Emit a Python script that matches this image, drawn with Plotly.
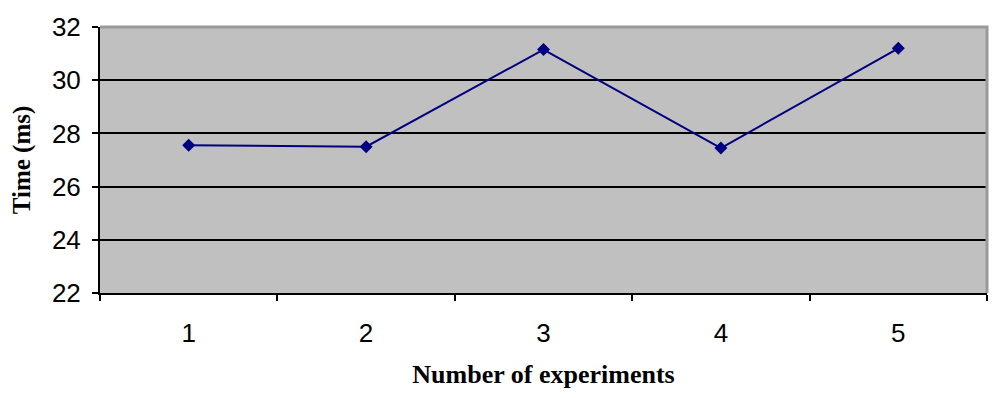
import plotly.graph_objects as go

experiments = ["1", "2", "3", "4", "5"]
time_ms = [27.55, 27.5, 31.15, 27.45, 31.2]
y_ticks = [22, 24, 26, 28, 30, 32]

fig = go.Figure()
fig.add_trace(go.Scatter(
    x=experiments, y=time_ms, mode="lines+markers",
    line=dict(color="#000080", width=2),
    marker=dict(symbol="diamond", size=10, color="#000080"),
    showlegend=False,
))

fig.update_layout(
    width=1000, height=398,
    margin=dict(l=100, r=13, t=20, b=105),
    paper_bgcolor="white", plot_bgcolor="#c0c0c0",
    font=dict(family="Liberation Sans, Arial", color="black"),
    xaxis=dict(
        type="category", range=[-0.5, len(experiments) - 0.5],
        tickson="boundaries", ticks="outside", ticklen=6,
        tickwidth=2, tickcolor="black",
        showline=True, linecolor="black", linewidth=2, showgrid=False,
        tickfont=dict(size=26, family="Liberation Sans, Arial"),
        ticklabelstandoff=16,
        title=dict(text="<b>Number of experiments</b>",
                   font=dict(size=26, family="Liberation Serif, Times New Roman"),
                   standoff=18),
    ),
    yaxis=dict(
        range=[22, 32], tickvals=y_ticks, ticks="outside", ticklen=6,
        tickwidth=2, tickcolor="black",
        showline=True, linecolor="black", linewidth=2,
        showgrid=True, gridcolor="black", gridwidth=2, zeroline=False,
        tickfont=dict(size=26, family="Liberation Sans, Arial"),
        ticklabelstandoff=6,
        title=dict(text="<b>Time (ms)</b>",
                   font=dict(size=25, family="Liberation Serif, Times New Roman"),
                   standoff=14),
    ),
    shapes=[dict(type="path", xref="paper", yref="paper",
                 path="M 0,1 L 1,1 L 1,0", line=dict(color="#9a9a9a", width=3),
                 layer="above")],
)

fig.write_html("out.html",
               config={"displayModeBar": False},
               post_script="document.body.style.margin='0';document.body.style.overflow='hidden';")
